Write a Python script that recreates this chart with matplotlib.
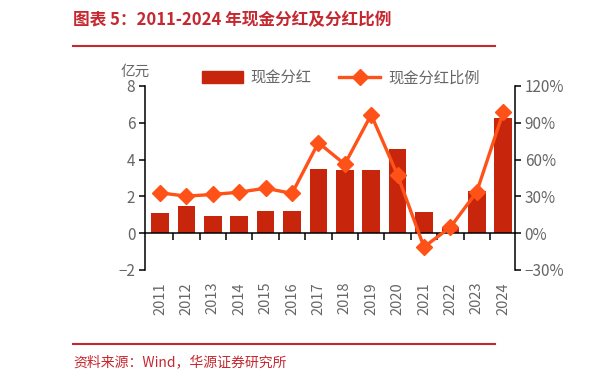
import matplotlib
matplotlib.use("Agg")
import matplotlib.pyplot as plt
import numpy as np
from matplotlib.patches import Patch
from matplotlib.lines import Line2D

plt.rcParams['font.family'] = ['Noto Sans CJK SC', 'DejaVu Sans']

years = ['2011', '2012', '2013', '2014', '2015', '2016', '2017', '2018',
         '2019', '2020', '2021', '2022', '2023', '2024']
dividend = [1.10, 1.48, 0.95, 0.95, 1.18, 1.18, 3.48, 3.41,
            3.41, 4.55, 1.14, 0.27, 2.30, 6.28]
payout_ratio = [32.9, 30.2, 31.6, 33.4, 36.7, 32.4, 73.8, 56.2,
                96.6, 47.3, -11.2, 4.8, 33.7, 98.4]
left_ticks = [-2, 0, 2, 4, 6, 8]
right_ticks = [-30, 0, 30, 60, 90, 120]

BAR = '#C8260C'
LINE = '#FF5218'
RED = '#C5282F'
GRAY = '#666666'

fig = plt.figure(figsize=(6.14, 3.83), dpi=100)
W, H = 614, 383
ax = fig.add_axes([145 / W, 1 - 270 / H, (515 - 145) / W, (270 - 86) / H])
x = np.arange(len(years))

ax.bar(x, dividend, width=0.67, color=BAR, zorder=2)
ax.set_xlim(-0.57, len(years) - 1 + 0.45)
ax.set_ylim(-2, 8)
ax.set_yticks(left_ticks)
ax.set_yticklabels([str(t) if t >= 0 else '\u2212' + str(-t) for t in left_ticks])

ax2 = ax.twinx()
ax2.plot(x, payout_ratio, color=LINE, lw=2.4, marker='D', markersize=8.5, zorder=3)
ax2.set_ylim(-30, 120)
ax2.set_yticks(right_ticks)
ax2.set_yticklabels([f'{t}%' if t >= 0 else f'\u2212{-t}%' for t in right_ticks])

for a in (ax, ax2):
    a.spines['top'].set_visible(False)
    a.set_facecolor('none')
ax.spines['right'].set_visible(False)
ax2.spines['left'].set_visible(False)
ax2.spines['bottom'].set_visible(False)
ax.spines['bottom'].set_position(('data', 0))
for s in ('left', 'bottom'):
    ax.spines[s].set_linewidth(1.1)
ax2.spines['right'].set_linewidth(1.1)

ax.tick_params(axis='y', direction='out', length=4, width=1.1, labelsize=11, labelcolor=GRAY, pad=3)
ax2.tick_params(axis='y', direction='out', length=4, width=1.1, labelsize=11, labelcolor=GRAY, pad=3)
ax.set_xticks([])
ax.set_xticks(x[:-1] + 0.5, minor=True)
ax.tick_params(axis='x', which='minor', direction='out', length=5, width=1.1)

for xi, yr in zip(x, years):
    ax.text(xi, -0.065, yr, transform=ax.get_xaxis_transform(), rotation=90,
            ha='center', va='top', fontsize=10.5, color=GRAY)

handles = [Patch(color=BAR), Line2D([0], [0], color=LINE, lw=2.4, marker='D', markersize=8.5)]
leg = fig.legend(handles, ['现金分红', '现金分红比例'], ncol=2, frameon=False,
                 loc='center left', bbox_to_anchor=(188 / W, 1 - 78 / H),
                 fontsize=11, handlelength=2.7, handleheight=0.8, columnspacing=1.8,
                 handletextpad=0.5, labelcolor=GRAY)

fig.text(121 / W, 1 - 72 / H, '亿元', fontsize=10.5, color=GRAY, va='center', ha='left')

fig.text(73 / W, 1 - 20 / H, '图表 5：2011-2024 年现金分红及分红比例', fontsize=12,
         fontweight='bold', color=RED, va='center', ha='left')
fig.add_artist(Line2D([73 / W, 495 / W], [1 - 46 / H, 1 - 46 / H], color=RED, lw=1.5))
fig.add_artist(Line2D([73 / W, 495 / W], [1 - 344 / H, 1 - 344 / H], color=RED, lw=1.5))
fig.text(73 / W, 1 - 362 / H, '资料来源：Wind，华源证券研究所', fontsize=10,
         color=RED, va='center', ha='left')

fig.savefig('out.png', dpi=100)
